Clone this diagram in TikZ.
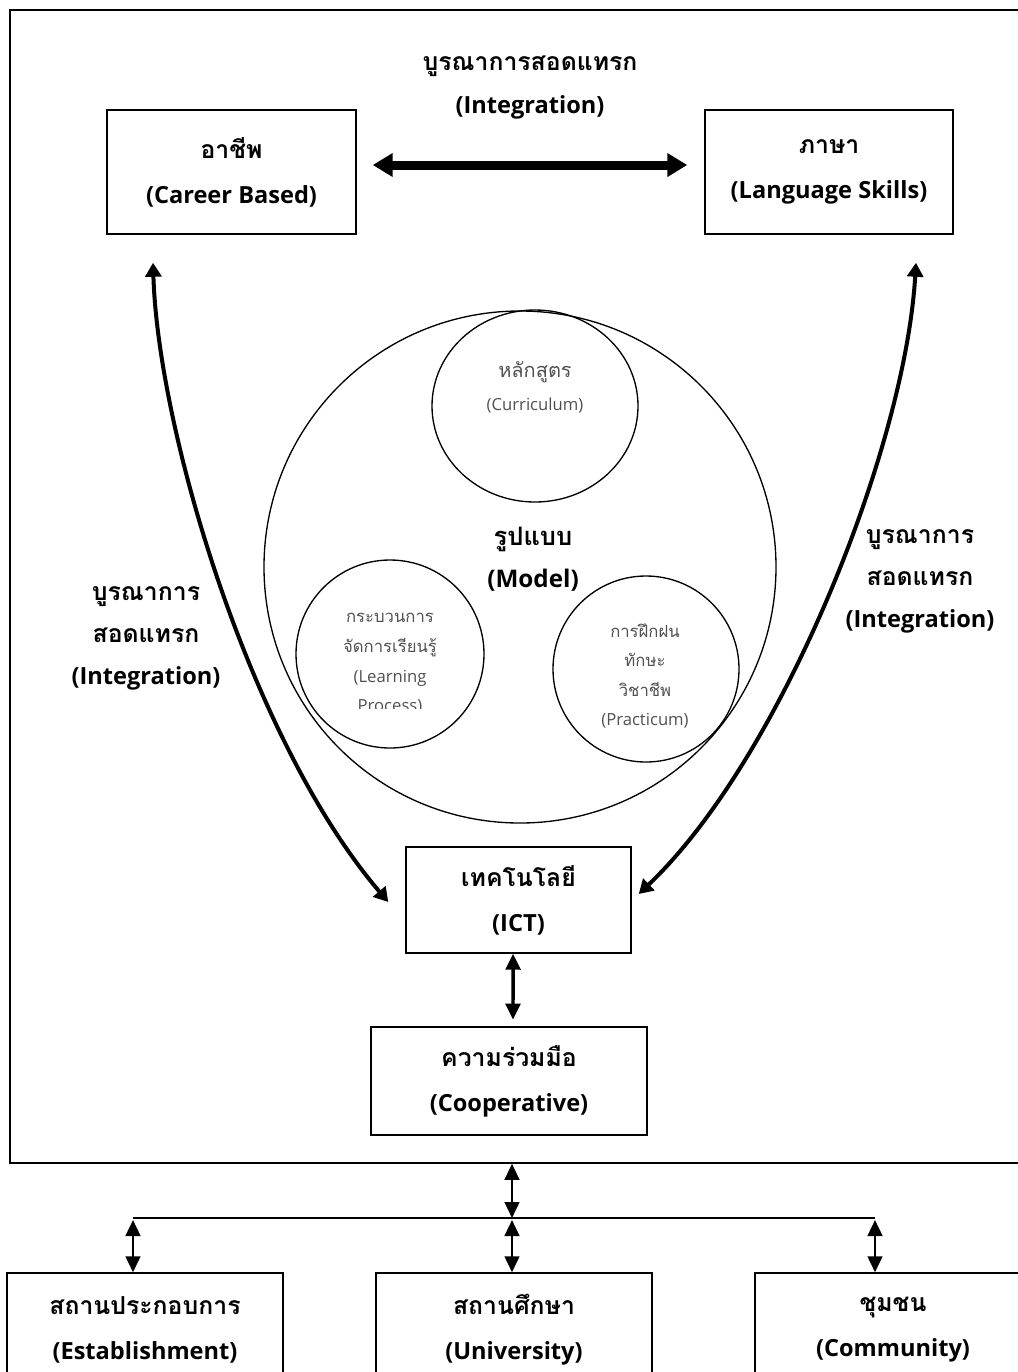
\documentclass[tikz,border=0pt]{standalone}
\usepackage{fontspec}
\setmainfont{Open Sans}
\newfontfamily\thai[Script=Thai,Scale=1.05]{Loma}
\newfontfamily\thaic[Script=Thai,Scale=1.2]{Loma}
\newfontfamily\thaid[Script=Thai,Scale=1.0]{Loma}
\usetikzlibrary{arrows.meta,shapes.geometric}
\definecolor{ctext}{RGB}{80,80,80}
\begin{document}
\begin{tikzpicture}[x=0.75pt,y=-0.75pt,
  boxnode/.style={draw,line width=1.1pt,align=center,inner sep=0pt,
     font=\bfseries\fontsize{17.7}{33.75}\selectfont},
  labeltext/.style={align=center,inner sep=0pt,
     font=\bfseries\fontsize{17.7}{31.5}\selectfont},
  circnode/.style={draw,line width=1pt,circle,inner sep=0pt},
  circtext/.style={align=center,inner sep=0pt,text=ctext,
     font=\fontsize{12.5}{22.2}\selectfont},
  framenode/.style={draw,line width=1.2pt,inner sep=0pt},
  bigarrow/.style={line width=6.75pt,{Triangle[length=15pt,width=17pt]}-{Triangle[length=15pt,width=17pt]}},
  curvearrow/.style={line width=3pt,{Triangle[length=10.5pt,width=12pt]}-{Triangle[length=10.5pt,width=12pt]}},
  midarrow/.style={line width=2.6pt,{Triangle[length=12pt,width=11pt]}-{Triangle[length=12pt,width=11pt]}},
  smallarrow/.style={line width=1.9pt,{Triangle[length=12pt,width=11pt]}-{Triangle[length=12pt,width=11pt]}},
  plainline/.style={line width=1.5pt}
]
\useasboundingbox (0,0) rectangle (1018,1372);

% outer frame (right side lies beyond the page)
\node[framenode,minimum width=765pt,minimum height=864.75pt] (frame) at (520,586.5) {};

% top boxes
\node[boxnode,minimum width=186.75pt,minimum height=93pt] (career) at (231.5,172)
  {{\thai อาชีพ}\\(Career Based)};
\node[boxnode,minimum width=186pt,minimum height=93pt] (lang) at (829,172)
  {{\thai ภาษา}\\(Language Skills)};
\node[labeltext,font=\bfseries\fontsize{17.7}{32.25}\selectfont] (toplabel) at (530,88)
  {{\thai บูรณาการสอดแทรก}\\(Integration)};

% model circles
\node[circnode,minimum size=384pt] (model) at (520,567) {};
\node[circnode,shape=ellipse,minimum width=154.5pt,minimum height=144pt] (curc) at (535,406) {};
\node[circtext,font=\fontsize{12.5}{24.75}\selectfont] (curt) at (535,387) {{\thaic หลักสูตร}\\(Curriculum)};
\node[circnode,minimum size=141pt] (learnc) at (390,654) {};
\begin{scope}
  \clip (290,590) rectangle (490,708);
  \node[circtext] (learnt) at (390,664) {{\thaid กระบวนการ}\\{\thaid จัดการเรียนรู้}\\(Learning\\Process)};
\end{scope}
\node[circnode,minimum size=139.5pt] (pracc) at (646,669) {};
\node[circtext] (pract) at (645,676) {{\thaid การฝึกฝน}\\{\thaid ทักษะ}\\{\thaid วิชาชีพ}\\(Practicum)};
\node[labeltext,font=\bfseries\fontsize{18.2}{31.5}\selectfont] (modelt) at (533,559) {{\thai รูปแบบ}\\(Model)};

% side labels
\node[labeltext] (leftlabel) at (146,638) {{\thai บูรณาการ}\\{\thai สอดแทรก}\\(Integration)};
\node[labeltext] (rightlabel) at (920,581) {{\thai บูรณาการ}\\{\thai สอดแทรก}\\(Integration)};

% lower boxes
\node[boxnode,minimum width=168.75pt,minimum height=79.5pt] (ict) at (518.5,900)
  {{\thai เทคโนโลยี}\\(ICT)};
\node[boxnode,minimum width=207pt,minimum height=81pt] (coop) at (509,1081)
  {{\thai ความร่วมมือ}\\(Cooperative)};
\node[boxnode,minimum width=207pt,minimum height=85.5pt] (est) at (145,1330)
  {{\thai สถานประกอบการ}\\(Establishment)};
\node[boxnode,minimum width=207pt,minimum height=85.5pt] (univ) at (514,1330)
  {{\thai สถานศึกษา}\\(University)};
\node[boxnode,minimum width=207pt,minimum height=85.5pt] (comm) at (893,1330)
  {{\thai ชุมชน}\\(Community)};

% connectors
\draw[bigarrow,shorten <=12pt,shorten >=12.75pt] ([yshift=5.25pt]career.east) -- ([yshift=5.25pt]lang.west);

\coordinate (lt) at ([shift={(-78.5,28)}]career.south);
\coordinate (lb) at ([shift={(-17,2)}]ict.west);
\coordinate (rt) at ([shift={(87,28)}]lang.south);
\coordinate (rb) at ([shift={(7,-6)}]ict.east);
\draw[curvearrow] (lt) .. controls (158,430) and (250,740) .. (lb);
\draw[curvearrow] (rt) .. controls (905,450) and (780,760) .. (rb);

\draw[midarrow,shorten >=5pt] ([xshift=-4.1pt]ict.south) -- ([xshift=3pt]coop.north);

\coordinate (jm) at (512,1218);
\coordinate (jl) at (133,1218);
\coordinate (jr) at (875,1218);
\draw[smallarrow] (jm |- frame.south) -- (jm);
\draw[plainline] (jl) -- (jr);
\draw[smallarrow,shorten <=1.5pt] (jl) -- (jl |- est.north);
\draw[smallarrow,shorten <=1.5pt] (jm) -- (jm |- univ.north);
\draw[smallarrow,shorten <=1.5pt] (jr) -- (jr |- comm.north);
\end{tikzpicture}
\end{document}
